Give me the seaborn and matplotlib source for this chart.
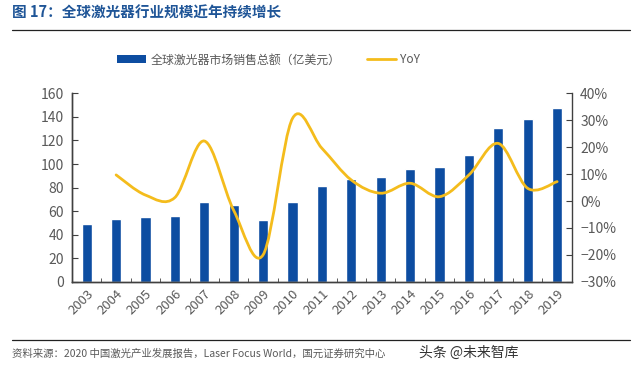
import numpy as np
import pandas as pd
import matplotlib
matplotlib.use("Agg")
import matplotlib.pyplot as plt
from matplotlib.path import Path
from matplotlib.patches import PathPatch, Patch
from matplotlib.lines import Line2D
from matplotlib.ticker import PercentFormatter
import seaborn as sns

# ---------------------------
# DATA
# ---------------------------
years = ["2003", "2004", "2005", "2006", "2007", "2008", "2009", "2010", "2011",
         "2012", "2013", "2014", "2015", "2016", "2017", "2018", "2019"]
sales = [49.3, 53.5, 54.7, 56.0, 68.0, 64.9, 52.7, 68.0, 81.5,
         87.0, 89.2, 96.0, 97.4, 107.6, 130.8, 137.9, 147.2]
yoy_years = years[1:]
yoy = [0.097, 0.022, 0.013, 0.223, -0.035, -0.200, 0.307, 0.196,
       0.078, 0.029, 0.066, 0.016, 0.097, 0.214, 0.047, 0.072]

title = "图 17：全球激光器行业规模近年持续增长"
bar_label = "全球激光器市场销售总额（亿美元）"
line_label = "YoY"
source = "资料来源：2020 中国激光产业发展报告，Laser Focus World，国元证券研究中心"
watermark = "头条 @未来智库"

BLUE = "#0D4DA1"
YELLOW = "#F4BC1C"
GREY = "#595959"

sns.set_style("white")
plt.rcParams["font.family"] = ["Noto Sans CJK SC", "DejaVu Sans"]


def smooth_path(xs, ys):
    # excel-like smoothed line drawn as cubic bezier through the points
    pts = np.column_stack([xs, ys]).astype(float)
    ext = np.vstack([pts[0], pts, pts[-1]])
    verts = [pts[0]]
    codes = [Path.MOVETO]
    for i in range(len(pts) - 1):
        p0, p1, p2, p3 = ext[i], ext[i + 1], ext[i + 2], ext[i + 3]
        verts += [p1 + (p2 - p0) / 6, p2 - (p3 - p1) / 6, p2]
        codes += [Path.CURVE4] * 3
    return Path(verts, codes)


df = pd.DataFrame({"year": years, "sales": sales})

fig = plt.figure(figsize=(6.4, 3.7), dpi=100)
ax = fig.add_axes([0.1125, 0.2386, 0.781, 0.509])

sns.barplot(data=df, x="year", y="sales", color=BLUE, width=0.35,
            saturation=1, ax=ax)
ax.set_xlim(-0.5, len(years) - 0.5)
ax.set_ylim(0, 160)
ax.set_yticks(np.arange(0, 161, 20))
ax.set_xlabel("")
ax.set_ylabel("")

ax2 = ax.twinx()
xpos = [years.index(y) for y in yoy_years]
ax2.add_patch(PathPatch(smooth_path(xpos, yoy), facecolor="none",
                        edgecolor=YELLOW, lw=2.0, capstyle="round"))
ax2.set_ylim(-0.3, 0.4)
ax2.set_yticks(np.arange(-0.3, 0.41, 0.1))
ax2.yaxis.set_major_formatter(PercentFormatter(1.0, decimals=0))

for a in (ax, ax2):
    a.spines["top"].set_visible(False)
    for s in ("left", "right", "bottom"):
        a.spines[s].set_color("#404040")
        a.spines[s].set_linewidth(1.0)
ax.spines["right"].set_visible(False)

ax.tick_params(axis="y", direction="in", length=4, color="#404040",
               labelsize=10, labelcolor=GREY, pad=6)
ax2.tick_params(axis="y", direction="in", length=4, color="#404040",
                labelsize=10, labelcolor=GREY, pad=6)
ax.set_xticks(range(len(years)))
ax.set_xticklabels(years, rotation=45, ha="right", rotation_mode="anchor")
ax.set_xticks(np.arange(-0.5, len(years), 1), minor=True)
ax.tick_params(axis="x", which="major", length=0, labelsize=9.5,
               labelcolor=GREY, pad=4)
ax.tick_params(axis="x", which="minor", direction="in", length=3,
               color="#404040", bottom=True)

# legend
handles = [Patch(facecolor=BLUE, edgecolor="none", label=bar_label),
           Line2D([], [], color=YELLOW, lw=2.0, label=line_label)]
fig.legend(handles=handles, loc="center", bbox_to_anchor=(0.42, 0.838),
           ncol=2, frameon=False, fontsize=8.6, handlelength=2.4,
           handleheight=0.7, handletextpad=0.4, columnspacing=2.2,
           labelcolor=GREY)

# title, rules, source
fig.text(0.019, 0.965, title, fontsize=10.5, fontweight="bold",
         color="#1F5597", va="center")
fig.add_artist(Line2D([0.019, 0.985], [0.92, 0.92], color="#222222", lw=0.9))
fig.add_artist(Line2D([0.019, 0.985], [0.082, 0.082], color="#222222", lw=0.9))
fig.text(0.019, 0.045, source, fontsize=7.5, color=GREY, va="center")
fig.text(0.655, 0.048, watermark, fontsize=10, color="#333333", va="center")

fig.savefig("out.png", dpi=100)
